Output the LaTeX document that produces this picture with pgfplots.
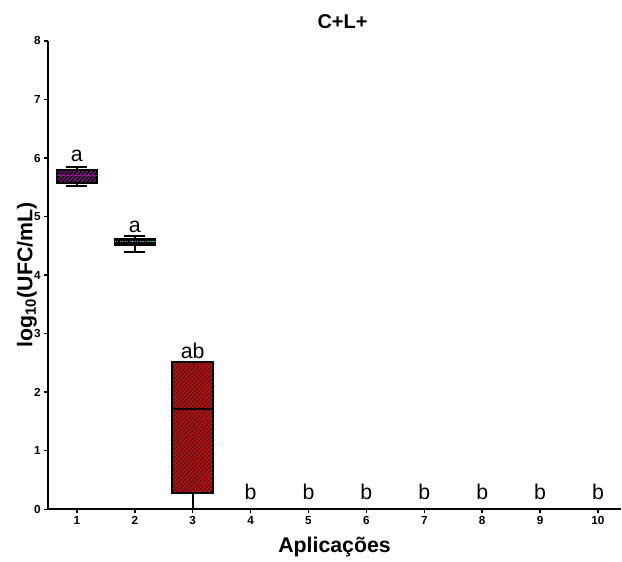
\documentclass[border=0pt]{standalone}
\usepackage{fontspec}
\setmainfont{Liberation Sans}
\usepackage{pgfplots}
\pgfplotsset{compat=1.18}
\usepgfplotslibrary{statistics}
\usetikzlibrary{patterns.meta}
\definecolor{mypurple}{RGB}{150,20,150}
\definecolor{mycyan}{RGB}{0,200,200}
\begin{document}
\begin{tikzpicture}
\begin{axis}[
  scale only axis, width=430.5pt, height=351.75pt,
  xmin=0.5, xmax=10.4, ymin=0, ymax=8,
  xtick={1,...,10}, ytick={0,...,8},
  axis lines*=left,
  axis on top,
  axis line style={line width=1.3pt},
  tick align=outside, major tick length=3pt,
  every tick/.style={line width=1.1pt, black},
  /pgf/number format/assume math mode=true,
  tick label style={font=\bfseries\fontsize{8.8}{8.8}\selectfont},
  xticklabel style={yshift=1pt},
  yticklabel style={xshift=1pt},
  xlabel={\textbf{Aplicações}},
  ylabel={\textbf{log\textsubscript{10}(UFC/mL)}},
  label style={font=\fontsize{16}{16}\selectfont},
  xlabel style={yshift=-2pt},
  ylabel style={yshift=-9pt},
  title={\textbf{C+L+}},
  title style={font=\fontsize{15}{15}\selectfont, yshift=0pt, xshift=6pt},
  boxplot/draw direction=y,
  boxplot/box extend=0.7,
  boxplot/whisker extend=0.36,
]
% zero boxes 4-10
\pgfplotsinvokeforeach{4,...,10}{
\addplot[draw=gray!45, line width=1.3pt, boxplot prepared={draw position=#1, lower whisker=0, lower quartile=0, median=0, upper quartile=0, upper whisker=0}] coordinates {};
}
% box 1
\addplot[draw=black, line width=1.5pt, fill=black,
  boxplot/every box/.append style={postaction={pattern={Lines[angle=45, distance=2.2pt, line width=0.8pt]}, pattern color=mypurple}},
  boxplot/every median/.style={draw=mypurple, line width=0.8pt},
  boxplot prepared={draw position=1, lower whisker=5.53, lower quartile=5.58, median=5.70, upper quartile=5.80, upper whisker=5.84}] coordinates {};
% box 2
\addplot[draw=black, line width=1.5pt, fill=black,
  boxplot/every median/.style={draw=mycyan, densely dotted, line width=0.9pt},
  boxplot prepared={draw position=2, lower whisker=4.40, lower quartile=4.52, median=4.57, upper quartile=4.62, upper whisker=4.66}] coordinates {};
% box 3
\addplot[draw=black, line width=1.5pt, fill=red!90!black,
  boxplot/every box/.append style={postaction={pattern={Lines[angle=45, distance=2.2pt, line width=0.9pt]}, pattern color=black!85}},
  boxplot prepared={draw position=3, lower whisker=0, lower quartile=0.28, median=1.71, upper quartile=2.51, upper whisker=2.51}] coordinates {};
% significance letters
\addplot[draw=none, mark=none, nodes near coords, point meta=explicit symbolic,
  nodes near coords style={anchor=base, inner sep=0pt, font=\fontsize{16}{16}\selectfont}]
  table[meta=l] {
x y l
1 5.94 a
2 4.73 a
3 2.57 ab
4 0.17 b
5 0.17 b
6 0.17 b
7 0.17 b
8 0.17 b
9 0.17 b
10 0.17 b
};
\end{axis}
\path[use as bounding box] ([xshift=-36pt,yshift=-36pt]current axis.south west) rectangle ([yshift=30.75pt]current axis.north east);
\end{tikzpicture}
\end{document}
